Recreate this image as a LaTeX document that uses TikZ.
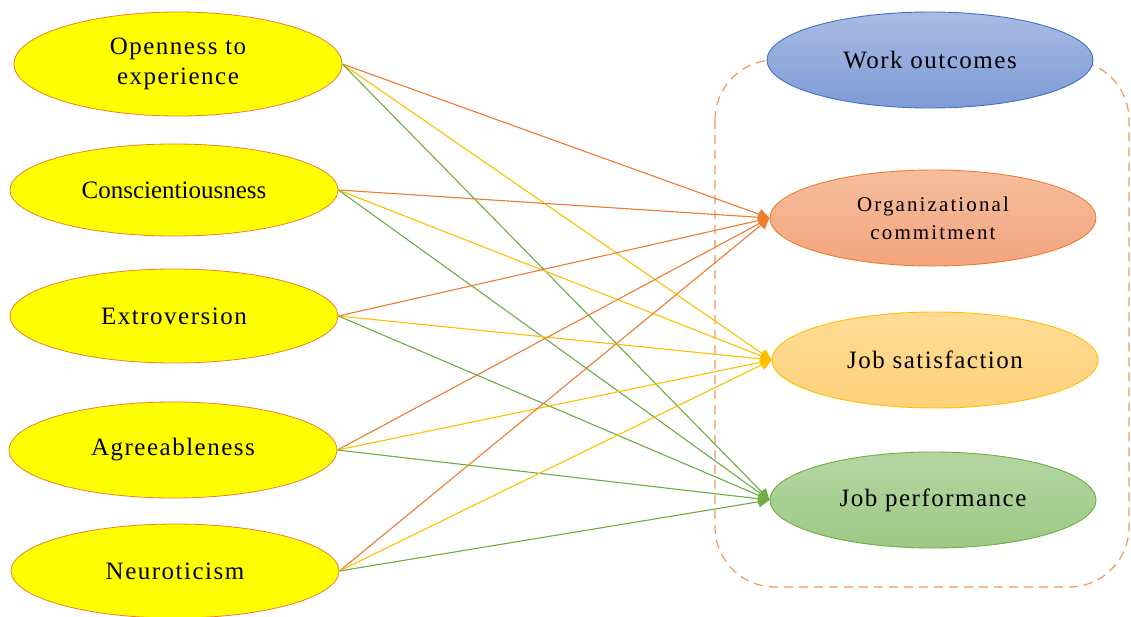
\documentclass[tikz,border=0pt]{standalone}
\usepackage{fontspec}
\setmainfont{Liberation Serif}
\newfontfamily\widefont[LetterSpace=6]{Liberation Serif}
\newfontfamily\widerfont[LetterSpace=10]{Liberation Serif}
\usetikzlibrary{shapes.geometric,arrows.meta}
\definecolor{cOrange}{HTML}{ED7D31}
\definecolor{cGold}{HTML}{FFC000}
\definecolor{cGreen}{HTML}{70AD47}
\definecolor{cBlue}{HTML}{4472C4}
\definecolor{cYellow}{HTML}{FFFF00}
\tikzset{
  trait/.style={ellipse, draw=cOrange, line width=0.8pt, fill=cYellow, inner sep=0pt,
    minimum width=328pt, minimum height=94pt, align=center,
    font=\widefont\fontsize{25}{30}\selectfont},
  outcome/.style={ellipse, line width=0.9pt, inner sep=0pt,
    minimum width=326pt, minimum height=96pt, align=center,
    font=\widefont\fontsize{25}{30}\selectfont},
  link/.style={line width=1.1pt, -{Triangle[length=11pt,width=11pt]}},
  olink/.style={link, draw=cOrange, fill=cOrange},
  ylink/.style={link, draw=cGold, fill=cGold},
  glink/.style={link, draw=cGreen, fill=cGreen},
}
\begin{document}
\begin{tikzpicture}[x=1pt,y=-1pt]
\useasboundingbox (0,0) rectangle (1131,616);
% dashed group frame
\draw[draw=cOrange!80, line width=1.2pt, dash pattern=on 9pt off 6pt, rounded corners=60pt]
  (715,60) rectangle (1129,587);
% traits
\node[trait, minimum height=104pt] (o) at (178,64) {Openness to\\experience};
\node[trait, minimum height=92pt, font=\rmfamily\fontsize{25}{30}\selectfont] (c) at (174,190) {Conscientiousness};
\node[trait] (e) at (174,316) {Extroversion};
\node[trait, minimum height=96pt] (a) at (173,450) {Agreeableness};
\node[trait] (n) at (175,571) {Neuroticism};
% outcomes
\node[outcome, draw=cBlue, top color={rgb,255:red,168;green,187;blue,227}, bottom color={rgb,255:red,126;green,155;blue,214}] (w) at (930,60) {Work outcomes};
\node[outcome, draw=cOrange, top color={rgb,255:red,246;green,190;blue,158}, bottom color={rgb,255:red,243;green,164;blue,124}, font=\widerfont\fontsize{21}{28}\selectfont] (oc) at (933,218) {Organizational\\commitment};
\node[outcome, draw=cGold, top color={rgb,255:red,255;green,220;blue,150}, bottom color={rgb,255:red,255;green,209;blue,122}] (js) at (935,360) {Job satisfaction};
\node[outcome, draw=cGreen, top color={rgb,255:red,180;green,214;blue,162}, bottom color={rgb,255:red,156;green,201;blue,133}] (jp) at (933,500) {Job performance};
% links
\foreach \s in {o,c,e,a,n}{
  \draw[olink] (\s.east) -- (oc.west);
  \draw[ylink] (\s.east) -- (js.west);
  \draw[glink] (\s.east) -- (jp.west);
}
\end{tikzpicture}
\end{document}
